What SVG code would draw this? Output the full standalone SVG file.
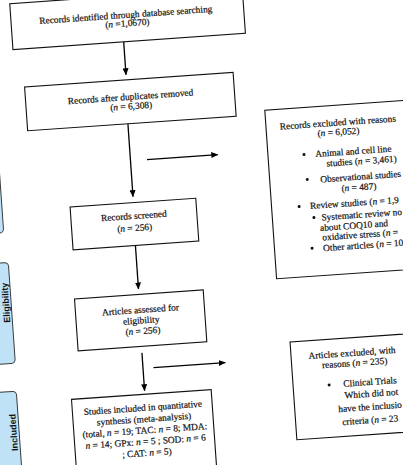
<svg xmlns="http://www.w3.org/2000/svg" width="403" height="465" viewBox="0 0 403 465">
<defs>
<marker id="ah" markerWidth="7" markerHeight="6" refX="6.5" refY="3" orient="auto" markerUnits="userSpaceOnUse">
<path d="M0,0 L7,3 L0,6 z" fill="#000"/>
</marker>
<style>
.box{fill:#fff;stroke:#111;stroke-width:1.1}
.tab{fill:#bfe2f7;stroke:#3a3a3a;stroke-width:1}
.t{font-family:"Liberation Serif","Times New Roman",serif;font-size:9.4px;fill:#111;stroke:#111;stroke-width:0.2}
.c{text-anchor:middle}
.tabt{font-family:"Liberation Sans",Arial,sans-serif;font-size:9px;font-weight:bold;fill:#111;text-anchor:middle}
.ln{stroke:#000;stroke-width:1.3;fill:none;marker-end:url(#ah)}
.bul{fill:#111}
.i{font-style:italic}
</style>
</defs>
<rect width="403" height="465" fill="#fff"/>
<g transform="rotate(-4 200 230)">
<g id="tab-screening"><rect class="tab" x="-30" y="120" width="34" height="99" rx="4"/></g>
<g id="tab-eligibility"><rect class="tab" x="-30" y="249" width="36.5" height="101" rx="4"/>
<text class="tabt" transform="translate(4.3 289) rotate(-90)">Eligibility</text></g>
<g id="tab-included"><rect class="tab" x="-30" y="378" width="35.5" height="120" rx="4"/>
<text class="tabt" transform="translate(3 419) rotate(-90)">Included</text></g>

<g id="connectors">
<line class="ln" x1="137" y1="37" x2="137" y2="70"/>
<line class="ln" x1="135.5" y1="119" x2="135.5" y2="192"/>
<line class="ln" x1="134.5" y1="241" x2="134.5" y2="284.5"/>
<line class="ln" x1="133.5" y1="348.5" x2="133.5" y2="386.5"/>
<line class="ln" x1="152" y1="156" x2="223" y2="156"/>
<line class="ln" x1="144" y1="364" x2="216" y2="364"/>
</g>

<g id="identified"><rect class="box" x="26" y="-9" width="233" height="46"/>
<text class="t c" x="141" y="13.3">Records identified through database searching</text>
<text class="t c" x="142" y="21.8">(<tspan class="i">n</tspan> =1,0670)</text></g>

<g id="duplicates"><rect class="box" x="35" y="75" width="209" height="44"/>
<text class="t c" x="140" y="95.3">Records after duplicates removed</text>
<text class="t c" x="140" y="104.8">(<tspan class="i">n</tspan> = 6,308)</text></g>

<g id="screened"><rect class="box" x="72" y="198" width="126" height="43"/>
<text class="t c" x="135" y="214.4">Records screened</text>
<text class="t c" x="135" y="226.5">(<tspan class="i">n</tspan> = 256)</text></g>

<g id="assessed"><rect class="box" x="70" y="290" width="129" height="52"/>
<text class="t c" x="135" y="308.6">Articles assessed for</text>
<text class="t c" x="135" y="319.2">eligibility</text>
<text class="t c" x="136" y="329.8">(<tspan class="i">n</tspan> = 256)</text></g>

<g id="included"><rect class="box" x="60" y="390" width="140" height="85"/>
<text class="t c" x="130.5" y="406.5">Studies included in quantitative</text>
<text class="t c" x="131" y="417.8">synthesis (meta-analysis)</text>
<text class="t c" x="131" y="429.1">(total, <tspan class="i">n</tspan> = 19; TAC: <tspan class="i">n</tspan> = 8; MDA:</text>
<text class="t c" x="131" y="440.4"><tspan class="i">n</tspan> = 14; GPx: <tspan class="i">n</tspan> = 5 ; SOD: <tspan class="i">n</tspan> = 6</text>
<text class="t c" x="131.5" y="451.7">; CAT: <tspan class="i">n</tspan> = 5)</text></g>

<g id="records-excluded"><rect class="box" x="273" y="115" width="150" height="169"/>
<text class="t c" x="345" y="135.5">Records excluded with reasons</text>
<text class="t c" x="345" y="145">(<tspan class="i">n</tspan> = 6,052)</text>
<circle class="bul" cx="309" cy="162" r="1.5"/>
<text class="t c" x="358.5" y="165.3">Animal and cell line</text>
<text class="t c" x="366" y="175.6">studies (<tspan class="i">n</tspan> = 3,461)</text>
<circle class="bul" cx="310.5" cy="187" r="1.5"/>
<text class="t c" x="364" y="191">Observational studies</text>
<text class="t c" x="361.5" y="201.5">(<tspan class="i">n</tspan> = 487)</text>
<circle class="bul" cx="300.5" cy="213.5" r="1.5"/>
<text class="t" x="311.5" y="216.8">Review studies (<tspan class="i">n</tspan> = 1,9</text>
<circle class="bul" cx="314.5" cy="225.5" r="1.5"/>
<text class="t" x="322" y="229">Systematic review no</text>
<text class="t c" x="354" y="239.4">about COQ10 and</text>
<text class="t" x="321.5" y="249">oxidative stress (<tspan class="i">n</tspan> = </text>
<circle class="bul" cx="310.5" cy="256" r="1.5"/>
<text class="t" x="321.5" y="259.8">Other articles (<tspan class="i">n</tspan> = 10</text></g>

<g id="articles-excluded"><rect class="box" x="282" y="348" width="140" height="98"/>
<text class="t c" x="343" y="366.3">Articles excluded, with</text>
<text class="t c" x="345" y="376.5">reasons (<tspan class="i">n</tspan> = 235)</text>
<circle class="bul" cx="318" cy="393.6" r="1.5"/>
<text class="t c" x="359" y="396.5">Clinical Trials</text>
<text class="t c" x="359.5" y="408.3">Which did not</text>
<text class="t" x="325.5" y="421.4">have the inclusio</text>
<text class="t" x="328.5" y="434.6">criteria (<tspan class="i">n</tspan> = 23</text></g>
</g>
</svg>
